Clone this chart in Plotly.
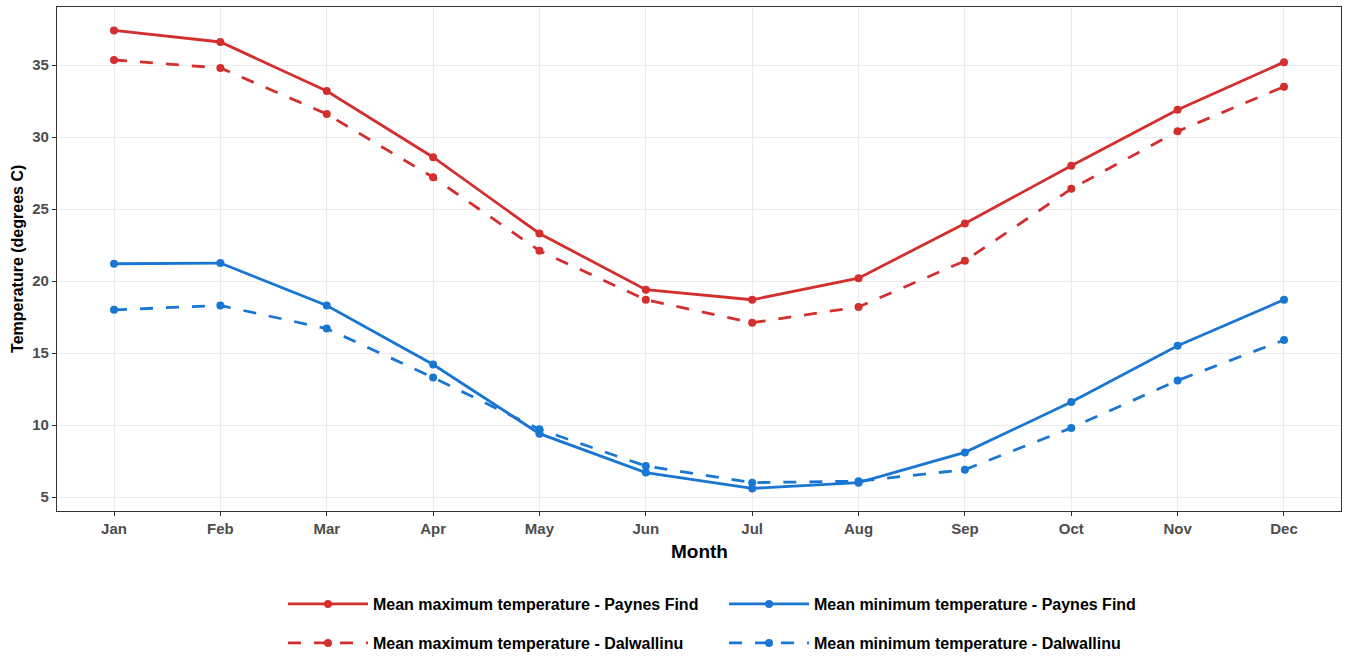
import plotly.graph_objects as go

months = ["Jan", "Feb", "Mar", "Apr", "May", "Jun", "Jul", "Aug", "Sep", "Oct", "Nov", "Dec"]
max_paynes = [37.4, 36.6, 33.2, 28.6, 23.3, 19.4, 18.7, 20.2, 24.0, 28.0, 31.9, 35.2]
max_dalw = [35.35, 34.8, 31.6, 27.2, 22.1, 18.7, 17.1, 18.2, 21.4, 26.4, 30.4, 33.5]
min_paynes = [21.2, 21.25, 18.3, 14.2, 9.4, 6.7, 5.6, 6.0, 8.1, 11.6, 15.5, 18.7]
min_dalw = [18.0, 18.3, 16.7, 13.3, 9.7, 7.15, 6.0, 6.1, 6.9, 9.8, 13.1, 15.9]

RED = "#D32F2F"
BLUE = "#1976D2"

series = [
    ("Mean maximum temperature - Paynes Find", max_paynes, RED, "solid", "legend"),
    ("Mean maximum temperature - Dalwallinu", max_dalw, RED, "13px,13px", "legend2"),
    ("Mean minimum temperature - Paynes Find", min_paynes, BLUE, "solid", "legend3"),
    ("Mean minimum temperature - Dalwallinu", min_dalw, BLUE, "13px,13px", "legend4"),
]

fig = go.Figure()
for name, vals, col, dash, leg in series:
    fig.add_trace(go.Scatter(
        x=months, y=vals, name=name, mode="lines+markers",
        line=dict(color=col, width=2.8, dash=dash),
        marker=dict(color=col, size=8),
        legend=leg, showlegend=True,
    ))

FONT = "Liberation Sans, Arial, sans-serif"
legfont = dict(family=FONT, size=16, color="black", weight="bold")
def leg(x, y):
    return dict(x=x, y=y, xanchor="left", yanchor="middle", font=legfont,
                bgcolor="rgba(0,0,0,0)", itemwidth=80, visible=True)

fig.update_layout(
    width=1352, height=657,
    margin=dict(l=57, r=11, t=7, b=146, autoexpand=False),
    plot_bgcolor="white", paper_bgcolor="white",
    font=dict(family=FONT),
    showlegend=True,
    legend=leg(0.176, -0.1845),
    legend2=leg(0.176, -0.262),
    legend3=leg(0.5195, -0.1845),
    legend4=leg(0.5195, -0.262),
    xaxis=dict(
        range=[-0.536, 11.536], showgrid=True, gridcolor="#EBEBEB", gridwidth=1,
        showline=True, linecolor="#333333", linewidth=1.3, mirror=True,
        ticks="outside", ticklen=4, tickcolor="#333333", automargin=False,
        tickfont=dict(size=15, color="#4D4D4D", weight="bold"),
    ),
    yaxis=dict(
        range=[4.03, 39.03], tickvals=[5, 10, 15, 20, 25, 30, 35],
        showgrid=True, gridcolor="#EBEBEB", gridwidth=1, zeroline=False,
        showline=True, linecolor="#333333", linewidth=1.3, mirror=True,
        ticks="outside", ticklen=4, tickcolor="#333333", automargin=False,
        tickfont=dict(size=15, color="#4D4D4D", weight="bold"),
    ),
    annotations=[
        dict(text="Month", xref="paper", yref="paper", x=0.5, y=-0.0794,
             xanchor="center", yanchor="middle", showarrow=False,
             font=dict(size=19, color="black", weight="bold")),
        dict(text="Temperature (degrees C)", xref="paper", yref="paper",
             x=-0.0312, y=0.5, xanchor="center", yanchor="middle",
             textangle=-90, showarrow=False,
             font=dict(size=16, color="black", weight="bold")),
    ],
)

fig.write_html("out.html")
